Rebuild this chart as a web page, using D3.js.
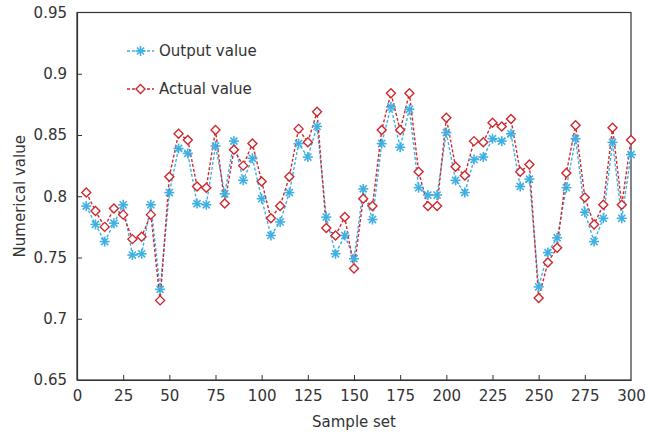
<!DOCTYPE html>
<html><head><meta charset="utf-8">
<script src="https://cdn.jsdelivr.net/npm/d3@7/dist/d3.min.js"></script>
<style>body{margin:0;background:#fff}svg{display:block}text{font-family:"DejaVu Sans",Verdana,sans-serif;fill:#333}</style>
</head><body><svg id="c" width="646" height="432"></svg>
<script>
const samples = [5,10,15,20,25,30,35,40,45,50,55,60,65,70,75,80,85,90,95,100,105,110,115,120,125,130,135,140,145,150,155,160,165,170,175,180,185,190,195,200,205,210,215,220,225,230,235,240,245,250,255,260,265,270,275,280,285,290,295,300];
const outputValue = [0.792,0.777,0.763,0.778,0.793,0.752,0.753,0.793,0.724,0.803,0.839,0.835,0.794,0.793,0.841,0.802,0.845,0.813,0.831,0.798,0.768,0.779,0.803,0.843,0.832,0.857,0.783,0.753,0.768,0.749,0.806,0.781,0.843,0.873,0.840,0.871,0.807,0.801,0.801,0.852,0.813,0.803,0.830,0.832,0.847,0.845,0.851,0.808,0.814,0.726,0.754,0.766,0.807,0.847,0.787,0.763,0.782,0.844,0.782,0.834];
const actualValue = [0.803,0.788,0.775,0.790,0.785,0.765,0.767,0.785,0.715,0.816,0.851,0.846,0.808,0.807,0.854,0.794,0.838,0.825,0.843,0.812,0.782,0.792,0.816,0.855,0.844,0.869,0.774,0.768,0.783,0.741,0.798,0.792,0.854,0.884,0.854,0.884,0.820,0.792,0.792,0.864,0.824,0.817,0.845,0.844,0.860,0.857,0.863,0.820,0.826,0.717,0.746,0.758,0.819,0.858,0.799,0.777,0.793,0.856,0.793,0.846];
const xTicks = [0,25,50,75,100,125,150,175,200,225,250,275,300];
const yTicks = [0.65,0.7,0.75,0.8,0.85,0.9,0.95];
const seriesNames = ["Output value","Actual value"];

const svg = d3.select("#c");
const m = {l:77, r:15, t:12.5, b:52};
const W = 646, H = 432;
const x = d3.scaleLinear().domain([0,300]).range([m.l, W-m.r]);
const y = d3.scaleLinear().domain([0.65,0.95]).range([H-m.b, m.t]);

const blue = "#3fb0e2", red = "#d0282e";

// frame
svg.append("rect").attr("x",x(0)).attr("y",y(0.95)).attr("width",x(300)-x(0)).attr("height",y(0.65)-y(0.95))
  .attr("fill","none").attr("stroke","#333").attr("stroke-width",1.2);

const gx = svg.append("g").attr("transform",`translate(0,${y(0.65)})`)
  .call(d3.axisBottom(x).tickValues(xTicks).tickSizeInner(-5).tickSizeOuter(0).tickPadding(10).tickFormat(d3.format("d")));
const gy = svg.append("g").attr("transform",`translate(${x(0)},0)`)
  .call(d3.axisLeft(y).tickValues(yTicks).tickSizeInner(-5).tickSizeOuter(0).tickPadding(10).tickFormat(d=>String(+d.toFixed(2))));
[gx,gy].forEach(g=>{
  g.select(".domain").attr("stroke","#333").attr("stroke-width",1.2);
  g.selectAll(".tick line").attr("stroke","#333");
  g.selectAll(".tick text").attr("font-size",15).attr("fill","#333").attr("font-family","DejaVu Sans, sans-serif");
});
gx.selectAll(".tick").filter(d=>d===0||d===300).select("line").remove();
gy.selectAll(".tick").filter(d=>d===0.65||d===0.95).select("line").remove();

svg.append("text").attr("x",(x(0)+x(300))/2).attr("y",427).attr("text-anchor","middle").attr("font-size",15).text("Sample set");
svg.append("text").attr("transform",`translate(25,${(y(0.65)+y(0.95))/2}) rotate(-90)`).attr("text-anchor","middle").attr("font-size",15).text("Numerical value");

const line = d3.line().x(d=>x(d[0])).y(d=>y(d[1]));
const outData = samples.map((s,i)=>[s,outputValue[i]]);
const actData = samples.map((s,i)=>[s,actualValue[i]]);

function star(g, cx, cy, r, color){
  for (let k=0;k<4;k++){
    const a = k*Math.PI/4;
    g.append("line").attr("x1",cx-r*Math.cos(a)).attr("y1",cy-r*Math.sin(a)).attr("x2",cx+r*Math.cos(a)).attr("y2",cy+r*Math.sin(a))
      .attr("stroke",color).attr("stroke-width",1.6);
  }
}
function diamond(g, cx, cy, r, color){
  g.append("path").attr("d",`M${cx},${cy-r}L${cx+r},${cy}L${cx},${cy+r}L${cx-r},${cy}Z`)
    .attr("fill","#fff").attr("stroke",color).attr("stroke-width",1.4);
}

const plot = svg.append("g");
plot.append("path").datum(outData).attr("d",line).attr("fill","none").attr("stroke",blue).attr("stroke-width",1.4).attr("stroke-dasharray","3,2");
plot.append("path").datum(actData).attr("d",line).attr("fill","none").attr("stroke",red).attr("stroke-width",1.4).attr("stroke-dasharray","3,2");
const mb = plot.append("g");
outData.forEach(d=>star(mb, x(d[0]), y(d[1]), 5, blue));
const mr = plot.append("g");
actData.forEach(d=>diamond(mr, x(d[0]), y(d[1]), 4.5, red));

// legend
const lg = svg.append("g");
const legY = [51, 89];
const legColors = [blue, red];
seriesNames.forEach((n,i)=>{
  lg.append("line").attr("x1",127).attr("x2",154).attr("y1",legY[i]).attr("y2",legY[i]).attr("stroke",legColors[i]).attr("stroke-width",1.4).attr("stroke-dasharray","3,2");
  if(i===0) star(lg,140.5,legY[i],5,blue); else diamond(lg,140.5,legY[i],4.5,red);
  lg.append("text").attr("x",159).attr("y",legY[i]+5).attr("font-size",15).text(n);
});
</script></body></html>
